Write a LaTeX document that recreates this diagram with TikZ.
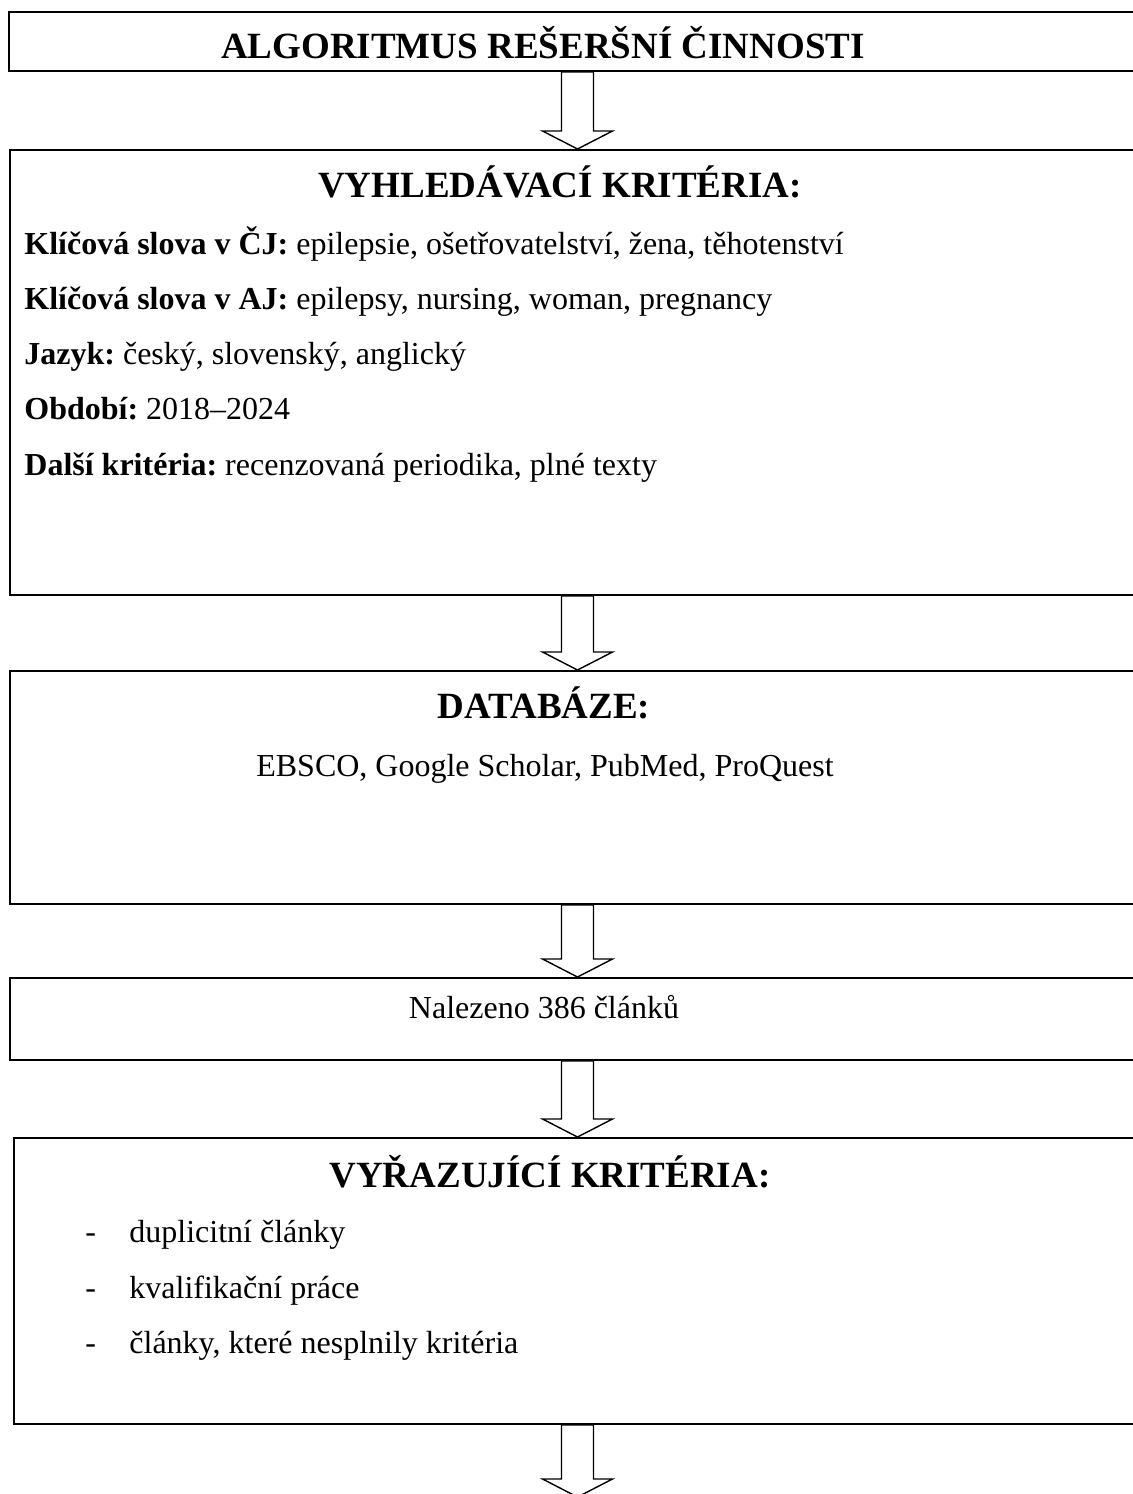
\documentclass[tikz,border=0pt]{standalone}
\usepackage{fontspec}
\setmainfont{Liberation Serif}[Ligatures=NoCommon]
\usetikzlibrary{calc, fit}
\frenchspacing

% block arrow from the bottom of one box to the top of the next
\newcommand{\flowarrow}[2]{%
  \draw[blockarrow] ($(ax |- #1)+(-16,0)$) -- ($(ax |- #2)+(-16,-18)$)
    -- ($(ax |- #2)+(-35,-18)$) -- (ax |- #2) -- ($(ax |- #2)+(35,-18)$)
    -- ($(ax |- #2)+(16,-18)$) -- ($(ax |- #1)+(16,0)$) -- cycle;}

\begin{document}
\begin{tikzpicture}[
    x=0.5pt, y=-0.5pt,
    box/.style={rectangle, draw, line width=1pt, inner sep=0pt},
    heading/.style={font=\fontsize{18.5}{22}\selectfont\bfseries, anchor=base},
    txt/.style={font=\fontsize{16}{19}\selectfont, anchor=base west, inner sep=0pt},
    ctxt/.style={font=\fontsize{16}{19}\selectfont, anchor=base},
    blockarrow/.style={draw, line width=0.7pt, fill=white, line join=miter},
]
\useasboundingbox (0,0) rectangle (1133,1494);
\clip (0,0) rectangle (1133,1494);

% Boxes
\node[box, fit={(9,12) (1170,71)}] (title) {};
\node[box, fit={(10,150) (1170,595)}] (crit) {};
\node[box, fit={(10,671) (1170,904)}] (db) {};
\node[box, fit={(10,978) (1170,1060)}] (found) {};
\node[box, fit={(14,1138) (1170,1424)}] (excl) {};
\coordinate (ax) at (577.5,0);
\coordinate (end) at (577.5,1497);

% Title
\node[heading] (titletxt) at (543,58) {ALGORITMUS REŠERŠNÍ ČINNOSTI};

% Search criteria
\node[heading] (crithead) at (560,197) {VYHLEDÁVACÍ KRITÉRIA:};
\node[txt] (kwcz) at (24,254) {\textbf{Klíčová slova v ČJ:} epilepsie, ošetřovatelství, žena, těhotenství};
\node[txt] (kwen) at (24,309) {\textbf{Klíčová slova v AJ:} epilepsy, nursing, woman, pregnancy};
\node[txt] (lang) at (24,364) {\textbf{Jazyk:} český, slovenský, anglický};
\node[txt] (period) at (24,419) {\textbf{Období:} 2018–2024};
\node[txt] (other) at (24,475) {\textbf{Další kritéria:} recenzovaná periodika, plné texty};

% Databases
\node[heading] (dbhead) at (544,718) {DATABÁZE:};
\node[ctxt] (dblist) at (545,776) {EBSCO, Google Scholar, PubMed, ProQuest};

% Found
\node[ctxt] (foundtxt) at (544,1018) {Nalezeno 386 článků};

% Exclusion criteria
\node[heading] (exclhead) at (550,1187) {VYŘAZUJÍCÍ KRITÉRIA:};
\foreach \y/\t [count=\i] in {1242/duplicitní články, 1298/kvalifikační práce, 1353/{články, které nesplnily kritéria}} {
    \node[txt] (dash\i) at (85,\y) {-};
    \node[txt] (excl\i) at (129,\y) {\t};
}

% Arrows
\flowarrow{title.south}{crit.north}
\flowarrow{crit.south}{db.north}
\flowarrow{db.south}{found.north}
\flowarrow{found.south}{excl.north}
\flowarrow{excl.south}{end}

\end{tikzpicture}
\end{document}
